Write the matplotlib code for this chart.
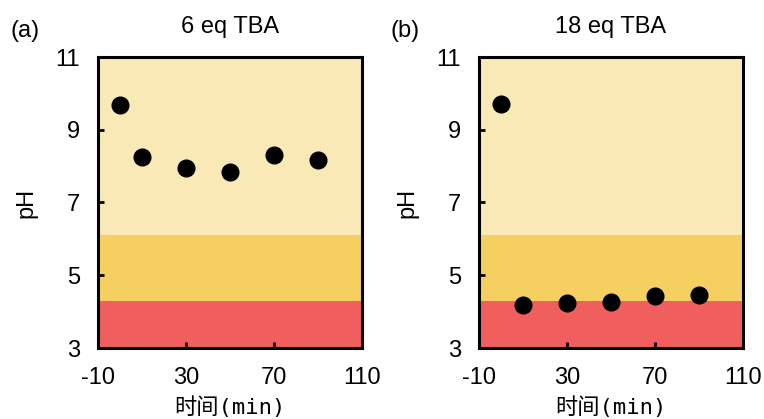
import matplotlib
matplotlib.use("Agg")
import matplotlib.pyplot as plt

plt.rcParams['font.family'] = ['Liberation Sans', 'Noto Sans CJK SC', 'DejaVu Sans']
plt.rcParams['axes.unicode_minus'] = False

# data
time_min = [0, 10, 30, 50, 70, 90]
ph_6eq = [9.68, 8.25, 7.95, 7.83, 8.31, 8.17]
ph_18eq = [9.70, 4.18, 4.25, 4.26, 4.43, 4.47]
titles = ['6 eq TBA', '18 eq TBA']
panel_tags = ['(a)', '(b)']

# colour bands (pH limits)
bands = [(3, 4.28, '#F05F5D'), (4.28, 6.12, '#F5CF60'), (6.12, 11, '#F8E9B6')]

fig = plt.figure(figsize=(7.64, 4.19), dpi=100)
axes_pos = [
    [98 / 764, 1 - 348 / 419, 264 / 764, 291 / 419],
    [479 / 764, 1 - 348 / 419, 264 / 764, 291 / 419],
]

for i, ph in enumerate([ph_6eq, ph_18eq]):
    ax = fig.add_axes(axes_pos[i])
    for lo, hi, col in bands:
        ax.axhspan(lo, hi, color=col, lw=0, zorder=0)
    ax.plot(time_min, ph, 'o', color='black', markersize=12, zorder=3)
    ax.set_xlim(-10, 110)
    ax.set_ylim(3, 11)
    ax.set_xticks([-10, 30, 70, 110])
    ax.set_yticks([3, 5, 7, 9, 11])
    ax.tick_params(direction='in', length=4, width=2, labelsize=17)
    ax.tick_params(axis='x', pad=14)
    ax.tick_params(axis='y', pad=13)
    for s in ax.spines.values():
        s.set_linewidth(2.2)
    ax.set_ylabel('pH', fontsize=17, labelpad=13)
    ax.set_xlabel('时间(min)', fontsize=16, labelpad=5,
                  family=['DejaVu Sans Mono', 'Noto Sans CJK SC'])
    ax.set_title(titles[i], fontsize=17, pad=17)
    fig.text(axes_pos[i][0] - 88 / 764, 1 - 31 / 419, panel_tags[i],
             fontsize=17, va='center', ha='left')

fig.savefig('out.png', dpi=100)
